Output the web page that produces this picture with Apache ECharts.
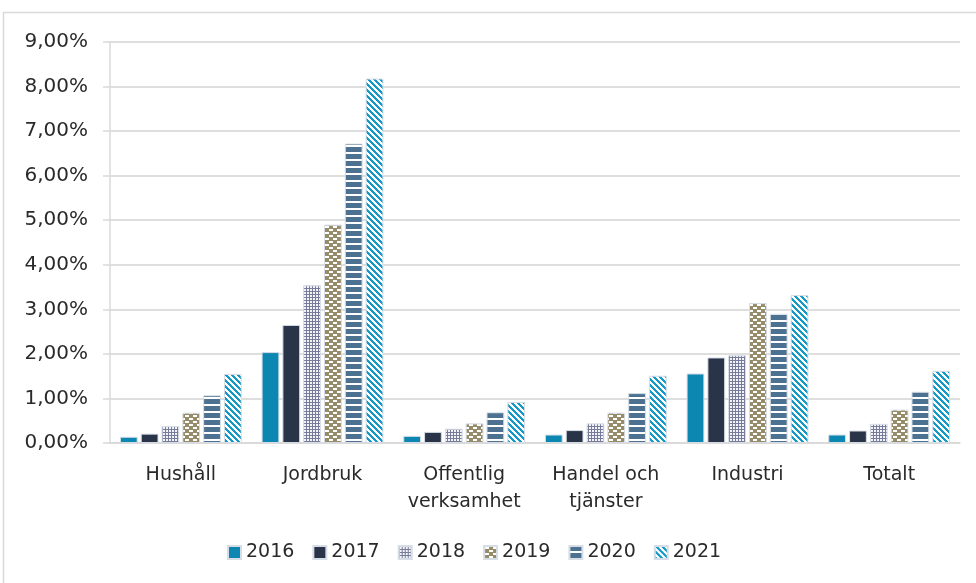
<!DOCTYPE html>
<html>
<head>
<meta charset="utf-8">
<script src="https://cdn.jsdelivr.net/npm/echarts@6/dist/echarts.min.js"></script>
<style>
  html, body { margin: 0; padding: 0; background: #fff; }
  #chart { width: 976px; height: 583px; }
</style>
</head>
<body>
<div id="chart"></div>
<script>
// Sectors and years
const categories = ['Hushåll', 'Jordbruk', 'Offentlig\nverksamhet', 'Handel och\ntjänster', 'Industri', 'Totalt'];
const years = ['2016', '2017', '2018', '2019', '2020', '2021'];

// Shares in percent per sector
const v2016 = [0.14, 2.04, 0.16, 0.19, 1.56, 0.19];
const v2017 = [0.21, 2.65, 0.25, 0.29, 1.92, 0.28];
const v2018 = [0.38, 3.54, 0.32, 0.44, 1.97, 0.43];
const v2019 = [0.68, 4.90, 0.44, 0.68, 3.14, 0.75];
const v2020 = [1.07, 6.72, 0.69, 1.12, 2.90, 1.15];
const v2021 = [1.55, 8.18, 0.92, 1.51, 3.32, 1.62];

const yTicks = [0, 1, 2, 3, 4, 5, 6, 7, 8, 9];

function tile(w, h, draw) {
  const c = document.createElement('canvas');
  c.width = w; c.height = h;
  const g = c.getContext('2d');
  draw(g, w, h);
  return { image: c, repeat: 'repeat' };
}

// Fill styles per year
const fillSolid2016 = '#0b87b1';
const fillSolid2017 = '#2a3448';
const fillDots2018 = tile(3, 3, (g) => {
  g.fillStyle = '#767b99'; g.fillRect(0, 0, 3, 3);
  g.fillStyle = '#f4f4f8'; g.fillRect(1, 1, 2, 2);
});
const fillBrick2019 = tile(8, 6, (g) => {
  g.fillStyle = '#978c6a'; g.fillRect(0, 0, 8, 6);
  g.fillStyle = '#ffffff';
  g.fillRect(1, 1, 4, 2);
  g.fillRect(5, 4, 3, 2);
  g.fillRect(0, 4, 1, 2);
});
const fillLines2020 = tile(8, 7, (g) => {
  g.fillStyle = '#4d7190'; g.fillRect(0, 0, 8, 7);
  g.fillStyle = '#ffffff'; g.fillRect(0, 5, 8, 2);
});
const fillDiag2021 = tile(6, 6, (g) => {
  g.fillStyle = '#ffffff'; g.fillRect(0, 0, 6, 6);
  g.fillStyle = '#1599c6';
  for (let y = 0; y < 6; y++) {
    for (let k = 0; k < 3; k++) {
      const x = (y + k) % 6;
      g.fillRect(x, y, 1, 1);
    }
  }
});

const seriesValues = [v2016, v2017, v2018, v2019, v2020, v2021];
const fills = [fillSolid2016, fillSolid2017, fillDots2018, fillBrick2019, fillLines2020, fillDiag2021];

const fontFamily = '"DejaVu Sans", sans-serif';
const textColor = '#2a2a2a';

const chart = echarts.init(document.getElementById('chart'), null, { renderer: 'canvas' });

chart.setOption({
  animation: false,
  backgroundColor: '#ffffff',
  graphic: [{
    type: 'rect',
    shape: { x: 3.5, y: 12.5, width: 990, height: 600 },
    style: { fill: 'none', stroke: '#d9d9d9', lineWidth: 1.5 },
    silent: true
  }],
  grid: { left: 110, right: 16, top: 42, bottom: 140, containLabel: false },
  legend: {
    left: 222,
    top: 538,
    itemWidth: 13,
    itemHeight: 13,
    itemGap: 18,
    icon: 'rect',
    textStyle: { fontFamily, fontSize: 19, color: textColor },
    data: years
  },
  xAxis: {
    type: 'category',
    data: categories,
    axisLine: { lineStyle: { color: '#d9d9d9', width: 1.5 } },
    axisTick: { show: false },
    axisLabel: {
      fontFamily, fontSize: 19, color: textColor, margin: 19, lineHeight: 27,
      interval: 0
    }
  },
  yAxis: {
    type: 'value',
    min: yTicks[0],
    max: yTicks[yTicks.length - 1],
    interval: 1,
    axisLine: { show: true, lineStyle: { color: '#d9d9d9', width: 1.5 } },
    axisTick: { show: true, length: 7, lineStyle: { color: '#d9d9d9', width: 1.5 } },
    splitLine: { lineStyle: { color: '#dedede', width: 2 } },
    axisLabel: {
      fontFamily, fontSize: 20, color: textColor, margin: 22,
      formatter: (v) => v.toFixed(2).replace('.', ',') + '%'
    }
  },
  series: years.map((y, i) => ({
    name: y,
    type: 'bar',
    data: seriesValues[i],
    barGap: '17%',
    barCategoryGap: '14%',
    itemStyle: { color: fills[i], borderColor: '#d6dde6', borderWidth: 1 }
  }))
});
</script>
</body>
</html>
